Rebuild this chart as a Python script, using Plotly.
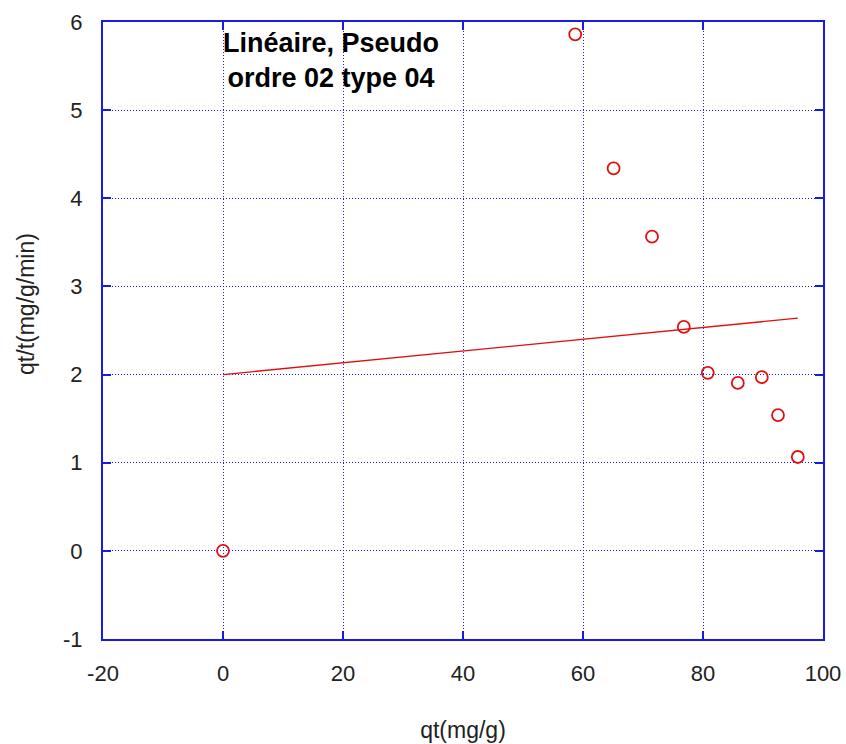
import plotly.graph_objects as go

# Measured points: qt (mg/g) vs qt/t (mg/g/min)
qt = [0.0, 58.7, 65.1, 71.5, 76.8, 80.8, 85.8, 89.8, 92.5, 95.8]
qt_over_t = [0.0, 5.86, 4.34, 3.565, 2.54, 2.02, 1.905, 1.97, 1.54, 1.065]

# Linear fit segment
fit_x = [0.0, 95.8]
fit_y = [2.0, 2.64]

x_ticks = [-20, 0, 20, 40, 60, 80, 100]
y_ticks = [-1, 0, 1, 2, 3, 4, 5, 6]

blue = "#1a1ae6"
red = "#e01010"
font_family = "Liberation Sans, Arial, sans-serif"
text_color = "#222222"

fig = go.Figure()
fig.add_trace(go.Scatter(
    x=fit_x, y=fit_y, mode="lines",
    line=dict(color=red, width=1.3),
    showlegend=False, hoverinfo="skip",
))
fig.add_trace(go.Scatter(
    x=qt, y=qt_over_t, mode="markers",
    marker=dict(symbol="circle-open", size=12, color=red, line=dict(width=1.8, color=red)),
    showlegend=False,
))

axis_common = dict(
    showline=True, mirror="ticks", linecolor=blue, linewidth=2,
    ticks="inside", ticklen=8, tickwidth=2, tickcolor=blue,
    showgrid=True, gridcolor=blue, gridwidth=1, griddash="1px,2px",
    zeroline=False, automargin=False,
    tickfont=dict(family=font_family, size=22, color=text_color),
)

fig.update_xaxes(
    range=[-20, 100], tickvals=x_ticks, ticktext=[str(v) for v in x_ticks],
    ticklabelstandoff=14,
    title=dict(text="qt(mg/g)", font=dict(family=font_family, size=23, color=text_color), standoff=36),
    **axis_common,
)
fig.update_yaxes(
    range=[-1, 6], tickvals=y_ticks, ticktext=[str(v) for v in y_ticks],
    ticklabelstandoff=14,
    **axis_common,
)

# Y-axis label, placed slightly above the vertical middle of the frame
fig.add_annotation(
    xref="paper", yref="paper", x=-0.107, y=0.543,
    xanchor="center", yanchor="middle", textangle=-90,
    text="qt/t(mg/g/min)", showarrow=False,
    font=dict(family=font_family, size=23, color=text_color),
)

fig.add_annotation(
    xref="paper", yref="paper", x=0.317, y=0.938,
    xanchor="center", yanchor="middle",
    text="<b>Linéaire, Pseudo<br>ordre 02 type 04</b>",
    showarrow=False, align="center",
    font=dict(family=font_family, size=27, color="#000000"),
)

fig.update_layout(
    width=846, height=744,
    margin=dict(l=103, r=23, t=22, b=105),
    plot_bgcolor="white", paper_bgcolor="white",
)

fig.write_html("out.html")
